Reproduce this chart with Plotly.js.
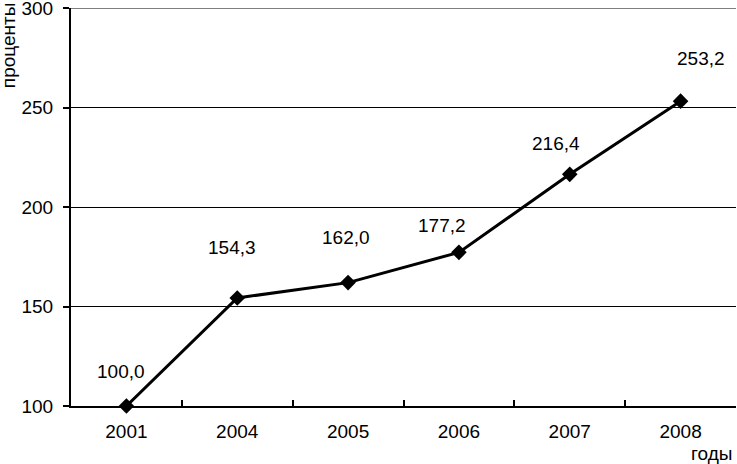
<!DOCTYPE html>
<html><head><meta charset="utf-8">
<script src="https://cdn.plot.ly/plotly-3.0.1.min.js"></script>
<style>html,body{margin:0;padding:0;background:#fff}</style>
</head><body>
<div id="chart" style="width:737px;height:464px"></div>
<script>
const years = ["2001","2004","2005","2006","2007","2008"];
const values = [100.0, 154.3, 162.0, 177.2, 216.4, 253.2];
const labels = ["100,0","154,3","162,0","177,2","216,4","253,2"];
const yTickVals = [100,150,200,250,300];

// label offsets (pixels) - styling only
const offX = [-5, -5, -2, -17, -14, 20];
const offY = [-35, -50, -45, -27, -31, -43];

const font = {family: "Liberation Sans, Arial, sans-serif", size: 19, color: "#000"};

const annotations = years.map((y, i) => ({
  x: i, y: values[i], xref: "x", yref: "y",
  text: labels[i], showarrow: true, arrowcolor: "rgba(255,255,255,0)",
  ax: offX[i], ay: offY[i], font: font, xanchor: "center", yanchor: "middle"
}));
annotations.push({
  xref: "paper", yref: "paper", x: -0.0946, y: 1.02, xanchor: "center", yanchor: "top",
  text: "проценты", textangle: -90, showarrow: false, font: font
});
annotations.push({
  xref: "paper", yref: "paper", x: 0.9625, y: -0.119, xanchor: "center", yanchor: "middle",
  text: "годы", showarrow: false, font: font
});

const topVal = yTickVals[yTickVals.length - 1];

Plotly.newPlot("chart", [{
  x: years, y: values, type: "scatter", mode: "lines+markers",
  line: {color: "#000", width: 3},
  marker: {symbol: "diamond", size: 12, color: "#000"},
  cliponaxis: false, hoverinfo: "skip"
}], {
  width: 737, height: 464,
  margin: {l: 71, r: 1, t: 8, b: 58},
  paper_bgcolor: "#fff", plot_bgcolor: "#fff",
  showlegend: false,
  font: font,
  xaxis: {
    type: "category", range: [-0.5, 5.5], tickson: "boundaries",
    ticks: "inside", ticklen: 6, tickwidth: 2, tickcolor: "#000",
    showline: true, linecolor: "#000", linewidth: 2,
    showgrid: false, zeroline: false, fixedrange: true,
    tickfont: font, ticklabelstandoff: 7
  },
  yaxis: {
    range: [100, 300], tickvals: yTickVals, ticktext: yTickVals.map(String),
    ticks: "outside", ticklen: 6, tickwidth: 2, tickcolor: "#000",
    showline: true, linecolor: "#000", linewidth: 2,
    showgrid: true, gridcolor: "#000", gridwidth: 1,
    zeroline: false, fixedrange: true, tickfont: font, ticklabelstandoff: 6,
    ticklabeloverflow: "allow"
  },
  shapes: [{
    type: "line", xref: "paper", yref: "y", x0: 0, x1: 1, y0: topVal, y1: topVal,
    line: {color: "#000", width: 1}, layer: "below"
  }],
  annotations: annotations
}, {staticPlot: true, displayModeBar: false});
</script>
</body></html>
